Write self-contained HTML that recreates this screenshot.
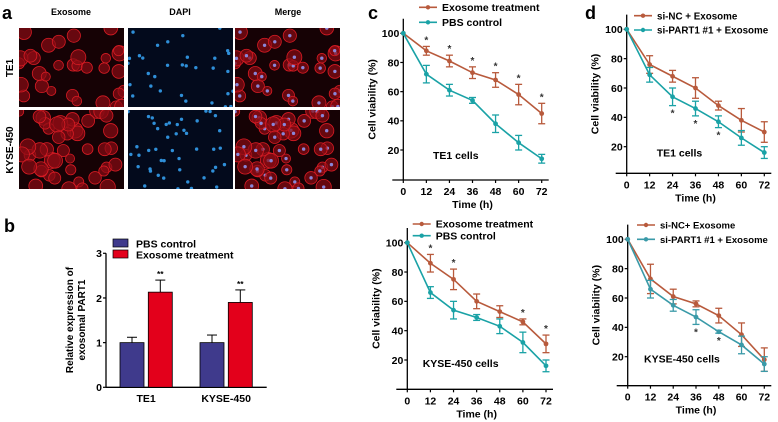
<!DOCTYPE html>
<html><head><meta charset="utf-8"><style>
html,body{margin:0;padding:0;background:#fff;}
svg{display:block;font-family:"Liberation Sans",Arial,sans-serif;}
</style></head><body>
<svg id="fig" width="778" height="422" viewBox="0 0 778 422">
<g id="panelA">
<text x="2" y="19" font-size="18" font-weight="bold">a</text>
<text x="71" y="15" font-size="9" font-weight="bold" text-anchor="middle">Exosome</text>
<text x="180" y="15" font-size="9" font-weight="bold" text-anchor="middle">DAPI</text>
<text x="288" y="15" font-size="9" font-weight="bold" text-anchor="middle">Merge</text>
<text transform="translate(13,68) rotate(-90)" font-size="10" font-weight="bold" text-anchor="middle">TE1</text>
<text transform="translate(13,150) rotate(-90)" font-size="10" font-weight="bold" text-anchor="middle">KYSE-450</text>
</g>
<g id="panelB">
<text x="4" y="232" font-size="18" font-weight="bold">b</text>
</g>
<g id="panelC">
<text x="368" y="19" font-size="18" font-weight="bold">c</text>
</g>
<g id="panelD">
<text x="585" y="19" font-size="18" font-weight="bold">d</text>
</g>
</svg>
<script>
// ---- Panel b data ----
var barCategories = ["TE1", "KYSE-450"];
var barPBS = [1.0, 1.0];
var barPBSErr = [0.12, 0.17];
var barExo = [2.13, 1.9];
var barExoErr = [0.27, 0.28];
var barTicks = [0, 1, 2, 3];

// ---- Panel c/d data ----
var timePoints = [0, 12, 24, 36, 48, 60, 72];
var viabTicks = [20, 40, 60, 80, 100];
var cTopExo = [100, 88, 81, 73, 68, 58, 45];
var cTopExoErr = [0, 3, 4, 4, 5, 7, 7];
var cTopPBS = [100, 72, 61, 54, 38, 25, 14];
var cTopPBSErr = [0, 6, 4, 2, 6, 5, 3];
var cBotExo = [100, 86, 75, 60, 53, 46, 31];
var cBotExoErr = [0, 6, 7, 5, 4, 2, 6];
var cBotPBS = [100, 66, 54, 49, 43, 32, 16];
var cBotPBSErr = [0, 4, 6, 2, 5, 7, 4];
var dTopNC = [100, 76, 68, 60, 48, 38, 30];
var dTopNCErr = [0, 6, 4, 7, 3, 8, 7];
var dTopSi = [100, 69, 54, 46, 37, 26, 16];
var dTopSiErr = [0, 5, 6, 5, 4, 5, 4];
var dBotNC = [100, 73, 61, 56, 48, 35, 18];
var dBotNCErr = [0, 10, 5, 2, 5, 8, 8];
var dBotSi = [100, 66, 55, 47, 37, 28, 15];
var dBotSiErr = [0, 6, 4, 5, 1, 6, 5];

var NS = "http://www.w3.org/2000/svg";
var FS = 10.5;
function mk(parent, tag, attrs, text) {
  var e = document.createElementNS(NS, tag);
  for (var k in attrs) e.setAttribute(k, attrs[k]);
  if (text !== undefined) e.textContent = text;
  parent.appendChild(e);
  return e;
}

// ---- Panel a: microscopy images (decorative) ----
(function () {
  var g = document.getElementById("panelA");
  var seed = 11;
  function rnd() { seed = (seed * 16807) % 2147483647; return (seed - 1) / 2147483646; }
  var cols = [19, 128, 235], rows = [28, 110], w = 105, h = 79;
  var kinds = ["exosome", "dapi", "merge"];
  for (var r = 0; r < 2; r++) {
    var cells = [];
    var n = r === 0 ? 32 : 45;
    for (var i = 0; i < n; i++) cells.push([rnd() * w, rnd() * h, 3 + rnd() * 3.5]);
    for (var c = 0; c < 3; c++) {
      var img = mk(g, "g", {});
      
      
      var x0 = cols[c], y0 = rows[r];
      mk(img, "rect", {x: x0, y: y0, width: w, height: h, fill: c === 1 ? "#030a1c" : "#160205"});
      var cp = mk(img, "clipPath", {id: "cp" + r + c});
      mk(cp, "rect", {x: x0, y: y0, width: w, height: h});
      var inner = mk(img, "g", {"clip-path": "url(#cp" + r + c + ")"});
      cells.forEach(function (p) {
        if (c !== 1) mk(inner, "circle", {cx: x0 + p[0], cy: y0 + p[1], r: p[2] + 1.5, fill: "#8a0c14", "fill-opacity": 0.7, stroke: "#d81c24", "stroke-width": 0.8});
        if (c !== 0) mk(inner, "circle", {cx: x0 + p[0], cy: y0 + p[1], r: 1.7, fill: c === 1 ? "#2f8fd8" : "#8a86d8"});
      });
    }
  }
})();

// ---- Panel b: bar chart ----
(function () {
  var g = document.getElementById("panelB");
  var y0 = 387.3, pxPer = 44.67, axX = 106;
  function ys(v) { return y0 - v * pxPer; }
  var groupX = [120, 200], bw = 24, gap = 4.3;
  mk(g, "line", {x1: axX, y1: ys(3), x2: axX, y2: y0, stroke: "#000", "stroke-width": 1.3});
  mk(g, "line", {x1: axX, y1: y0, x2: 266.7, y2: y0, stroke: "#000", "stroke-width": 1.3});
  barTicks.forEach(function (t) {
    mk(g, "line", {x1: axX - 3, y1: ys(t), x2: axX, y2: ys(t), stroke: "#000", "stroke-width": 1.2});
    var tl = mk(g, "text", {x: axX - 4, y: ys(t) + 3.8, "font-size": FS, "font-weight": "bold", "text-anchor": "end"}, t);
    
    
  });
  var yt = mk(g, "text", {transform: "translate(73,320) rotate(-90)", "font-size": 10, "font-weight": "bold", "text-anchor": "middle"}, "Relative expression of");
  
  
  var yt2 = mk(g, "text", {transform: "translate(85,320) rotate(-90)", "font-size": 10, "font-weight": "bold", "text-anchor": "middle"}, "exosomal PART1");
  
  
  function bar(x, v, e, col, name) {
    var ex = x + bw / 2;
    mk(g, "line", {x1: ex, y1: ys(v + e), x2: ex, y2: ys(v), stroke: "#000", "stroke-width": 1});
    mk(g, "line", {x1: ex - 5, y1: ys(v + e), x2: ex + 5, y2: ys(v + e), stroke: "#000", "stroke-width": 1});
    var b = mk(g, "rect", {x: x, y: ys(v), width: bw, height: v * pxPer, fill: col, stroke: "#000", "stroke-width": 0.8});
    
    
  }
  barCategories.forEach(function (cat, i) {
    bar(groupX[i], barPBS[i], barPBSErr[i], "#3f3a8c", "bar-pbs-" + cat.toLowerCase());
    bar(groupX[i] + bw + gap, barExo[i], barExoErr[i], "#e3001b", "bar-exosome-" + cat.toLowerCase());
    var s = mk(g, "text", {x: groupX[i] + bw + gap + bw / 2, y: ys(barExo[i] + barExoErr[i]) - 3, "font-size": 8.5, "font-weight": "bold", "text-anchor": "middle"}, "**");
    
    
    var cl = mk(g, "text", {x: groupX[i] + bw + gap / 2, y: 402, "font-size": FS, "font-weight": "bold", "text-anchor": "middle"}, cat);
    
    
  });
  [["PBS control", "#3f3a8c", 239], ["Exosome treatment", "#e3001b", 250]].forEach(function (L) {
    var le = mk(g, "g", {});
    
    
    mk(le, "rect", {x: 113, y: L[2], width: 15, height: 8, fill: L[1], stroke: "#000", "stroke-width": 0.7});
    mk(le, "text", {x: 136, y: L[2] + 8.5, "font-size": FS, "font-weight": "bold"}, L[0]);
  });
})();

// ---- Line charts ----
function lineChart(g, o) {
  function xs(t) { return o.x0 + (t / 72) * (o.x72 - o.x0); }
  var pp = (o.y20 - o.y100) / 80;
  function ys(v) { return o.y100 + (100 - v) * pp; }
  var top = ys(110);
  mk(g, "line", {x1: o.x0, y1: top, x2: o.x0, y2: o.axisY, stroke: "#000", "stroke-width": 1.3});
  mk(g, "line", {x1: o.x0 - 11, y1: o.axisY, x2: o.x72 + 7, y2: o.axisY, stroke: "#000", "stroke-width": 1.3});
  viabTicks.forEach(function (t) {
    mk(g, "line", {x1: o.x0 - 3, y1: ys(t), x2: o.x0, y2: ys(t), stroke: "#000", "stroke-width": 1.2});
    var tl = mk(g, "text", {x: o.x0 - 4, y: ys(t) + 3.8, "font-size": FS, "font-weight": "bold", "text-anchor": "end"}, t);
    
    
  });
  timePoints.forEach(function (t) {
    mk(g, "line", {x1: xs(t), y1: o.axisY, x2: xs(t), y2: o.axisY + 3, stroke: "#000", "stroke-width": 1.2});
    var tl = mk(g, "text", {x: xs(t), y: o.axisY + 15, "font-size": FS, "font-weight": "bold", "text-anchor": "middle"}, t);
    
    
  });
  var xt = mk(g, "text", {x: (o.x0 + o.x72) / 2, y: o.axisY + 28, "font-size": FS, "font-weight": "bold", "text-anchor": "middle"}, "Time (h)");
  
  
  var yt = mk(g, "text", {transform: "translate(" + (o.x0 - 28) + "," + ((top + o.axisY) / 2) + ") rotate(-90)", "font-size": FS, "font-weight": "bold", "text-anchor": "middle"}, "Cell viability (%)");
  
  
  var ct = mk(g, "text", {x: o.cellX, y: o.cellY, "font-size": FS, "font-weight": "bold"}, o.cellLabel);
  
  
  o.series.forEach(function (s, si) {
    var sg = mk(g, "g", {});
    
    
    var pts = timePoints.map(function (t, i) { return xs(t) + "," + ys(s.v[i]); }).join(" ");
    mk(sg, "polyline", {points: pts, fill: "none", stroke: s.col, "stroke-width": 1.6});
    timePoints.forEach(function (t, i) {
      var x = xs(t), v = s.v[i], e = s.e[i];
      if (e > 0) {
        mk(sg, "line", {x1: x, y1: ys(v + e), x2: x, y2: ys(v - e), stroke: s.col, "stroke-width": 1.3});
        mk(sg, "line", {x1: x - 3.5, y1: ys(v + e), x2: x + 3.5, y2: ys(v + e), stroke: s.col, "stroke-width": 1.3});
        mk(sg, "line", {x1: x - 3.5, y1: ys(v - e), x2: x + 3.5, y2: ys(v - e), stroke: s.col, "stroke-width": 1.3});
      }
      var pt = mk(sg, "circle", {cx: x, cy: ys(v), r: 2.4, fill: s.col});
      
      
    });
    var le = mk(g, "g", {});
    
    
    var ly = o.legY[si];
    mk(le, "line", {x1: o.legX, y1: ly, x2: o.legX + 18, y2: ly, stroke: s.col, "stroke-width": 1.6});
    mk(le, "circle", {cx: o.legX + 9, cy: ly, r: 2.2, fill: s.col});
    mk(le, "text", {x: o.legX + 23, y: ly + 3.6, "font-size": o.legFS || FS, "font-weight": "bold"}, s.name);
  });
  o.stars.forEach(function (st) {
    var s = o.series[st.s], i = timePoints.indexOf(st.t);
    var y = st.below ? ys(s.v[i] - s.e[i]) + 11 : ys(s.v[i] + s.e[i]) - 3;
    var sm = mk(g, "text", {x: xs(st.t), y: y, "font-size": 10, "font-weight": "bold", "text-anchor": "middle", fill: "#333"}, "*");
    
    
  });
}
var ORG = "#b85a3c", TEAL = "#1aa2a6";
var gc = document.getElementById("panelC"), gd = document.getElementById("panelD");
var gc1 = mk(gc, "g", {});  
var gc2 = mk(gc, "g", {});  
var gd1 = mk(gd, "g", {});  
var gd2 = mk(gd, "g", {});  
lineChart(gc1, {x0: 403.3, x72: 541.7, y100: 33.3, y20: 150, axisY: 180, cellLabel: "TE1 cells", cellX: 433, cellY: 159,
  legX: 419, legY: [7.3, 22.3],
  series: [{id: "exosome", name: "Exosome treatment", col: ORG, v: cTopExo, e: cTopExoErr},
           {id: "pbs", name: "PBS control", col: TEAL, v: cTopPBS, e: cTopPBSErr}],
  stars: [12, 24, 36, 48, 60, 72].map(function (t) { return {s: 0, t: t}; })});
lineChart(gc2, {x0: 407.3, x72: 546, y100: 242.7, y20: 360, axisY: 389.3, cellLabel: "KYSE-450 cells", cellX: 422.7, cellY: 367,
  legX: 412.7, legY: [224, 235.7],
  series: [{id: "exosome", name: "Exosome treatment", col: ORG, v: cBotExo, e: cBotExoErr},
           {id: "pbs", name: "PBS control", col: TEAL, v: cBotPBS, e: cBotPBSErr}],
  stars: [12, 24, 60, 72].map(function (t) { return {s: 0, t: t}; })});
lineChart(gd1, {x0: 626.7, x72: 764.3, y100: 29.3, y20: 146.7, axisY: 173.3, cellLabel: "TE1 cells", cellX: 656.7, cellY: 156.7,
  legX: 634, legY: [15.7, 30], legFS: 9.8,
  series: [{id: "si-nc", name: "si-NC + Exosome", col: ORG, v: dTopNC, e: dTopNCErr},
           {id: "si-part1", name: "si-PART1 #1 + Exosome", col: TEAL, v: dTopSi, e: dTopSiErr}],
  stars: [24, 36, 48].map(function (t) { return {s: 1, t: t, below: true}; })});
lineChart(gd2, {x0: 627.7, x72: 764.3, y100: 239.3, y20: 356.7, axisY: 385.7, cellLabel: "KYSE-450 cells", cellX: 644, cellY: 362.7,
  legX: 637, legY: [225, 239.3], legFS: 9.5,
  series: [{id: "si-nc", name: "si-NC+ Exosome", col: ORG, v: dBotNC, e: dBotNCErr},
           {id: "si-part1", name: "si-PART1 #1 + Exosome", col: "#3a9aa8", v: dBotSi, e: dBotSiErr}],
  stars: [36, 48].map(function (t) { return {s: 1, t: t, below: true}; })});
</script>
</body></html>
